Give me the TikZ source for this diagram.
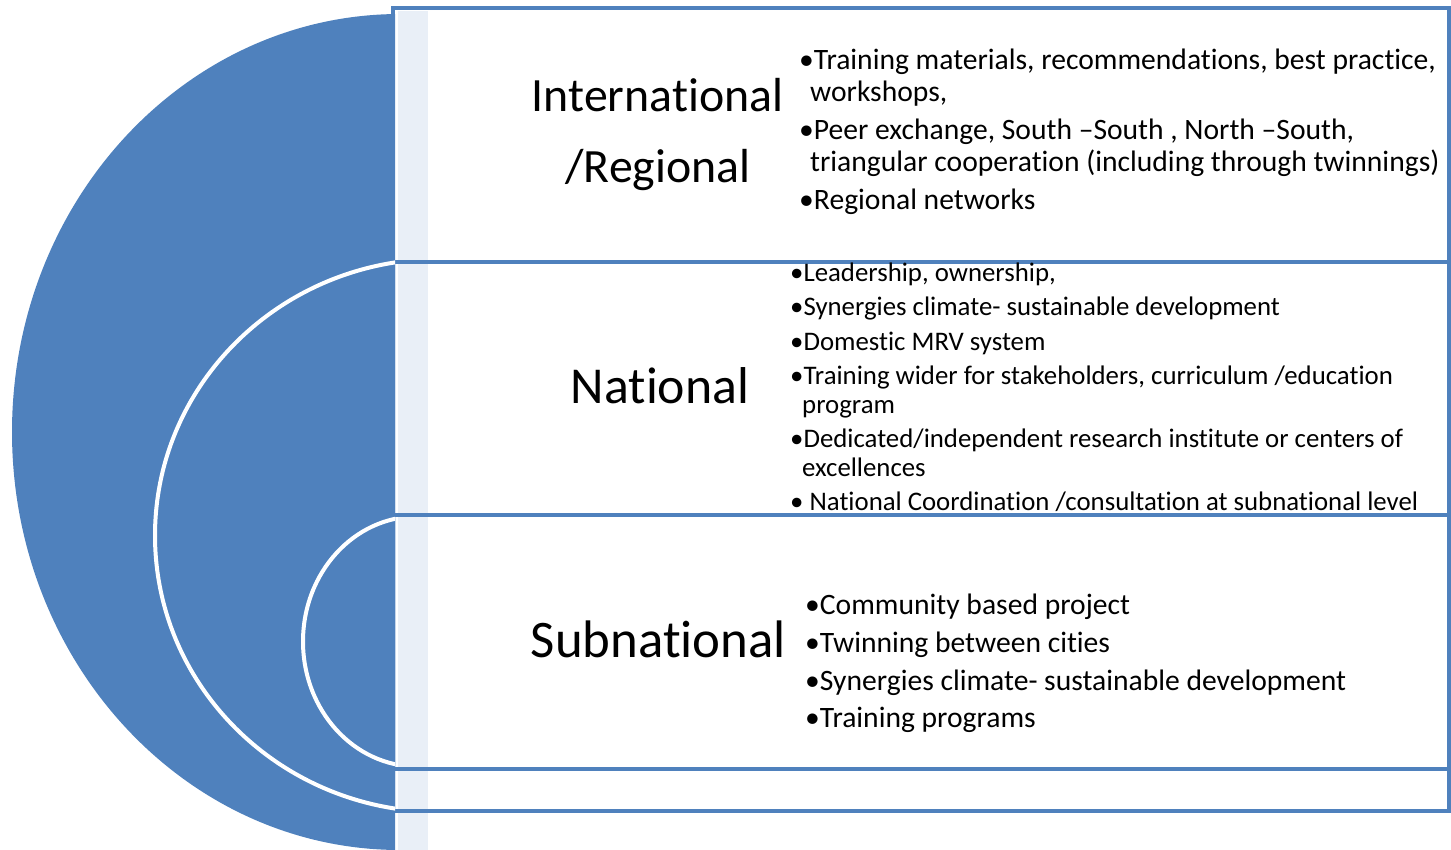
\documentclass[tikz,border=0pt]{standalone}
\usepackage{fontspec}
\setmainfont{Carlito}[Ligatures={NoCommon}]
\definecolor{ringblue}{HTML}{4F81BD}
\definecolor{stripe}{RGB}{233,239,247}

\begin{document}
\begin{tikzpicture}[x=1pt, y=-1pt,
    level/.style={draw=ringblue, line width=4pt},
    ring/.style={fill=ringblue, draw=white, line width=4pt},
    head/.style={anchor=base, inner sep=0pt},
    item/.style={anchor=base west, inner sep=0pt, font=\fontsize{29.6}{32}\selectfont},
    itemsm/.style={item, font=\fontsize{26.8}{29}\selectfont}]
\useasboundingbox (0,0) rectangle (1451,850);

% pale strip and the four level boxes
\fill[stripe] (398,11) rectangle (428,850);
\draw[level] (393,8.5) rectangle (1449,262);
\draw[level] (393,262) rectangle (1449,515);
\draw[level] (393,515) rectangle (1449,769);
\draw[level] (393,769) rectangle (1449,811);

% nested half rings
\begin{scope}
  \clip (0,0) rectangle (395,850);
  \fill[ringblue] (400,432) ellipse [x radius=388, y radius=418];
  \draw[ring] (440,535.5) ellipse [x radius=285, y radius=276.5];
  \draw[ring] (417,641.5) ellipse [x radius=114, y radius=125];
\end{scope}

% level names
\node[head, font=\fontsize{47.8}{56}\selectfont] (intl) at (657.5,112) {International};
\node[head, font=\fontsize{47.8}{56}\selectfont] (regl) at (658,183) {/Regional};
\node[head, font=\fontsize{51.8}{62}\selectfont] (natl) at (660,403) {National};
\node[head, font=\fontsize{52.8}{62}\selectfont] (subn) at (658.5,657) {Subnational};

% international / regional
\node[item] (i1) at (799,70) {•Training materials, recommendations, best practice,};
\node[item] (i1b) at (810,102) {workshops,};
\node[item] (i2) at (799,140) {•Peer exchange, South –South , North –South,};
\node[item] (i2b) at (810,172) {triangular cooperation (including through twinnings)};
\node[item] (i3) at (799,210) {•Regional networks};

% national
\node[itemsm] (n1) at (790,282) {•Leadership, ownership,};
\node[itemsm] (n2) at (790,316) {•Synergies climate- sustainable development};
\node[itemsm] (n3) at (790,350) {•Domestic MRV system};
\node[itemsm] (n4) at (790,384) {•Training wider for stakeholders, curriculum /education};
\node[itemsm] (n4b) at (802,413) {program};
\node[itemsm] (n5) at (790,447) {•Dedicated/independent research institute or centers of};
\node[itemsm] (n5b) at (802,476) {excellences};
\node[itemsm] (n6) at (790,510) {• National Coordination /consultation at subnational level};

% subnational
\node[item] (s1) at (805,614) {•Community based project};
\node[item] (s2) at (805,652) {•Twinning between cities};
\node[item] (s3) at (805,690) {•Synergies climate- sustainable development};
\node[item] (s4) at (805,727) {•Training programs};
\end{tikzpicture}
\end{document}
